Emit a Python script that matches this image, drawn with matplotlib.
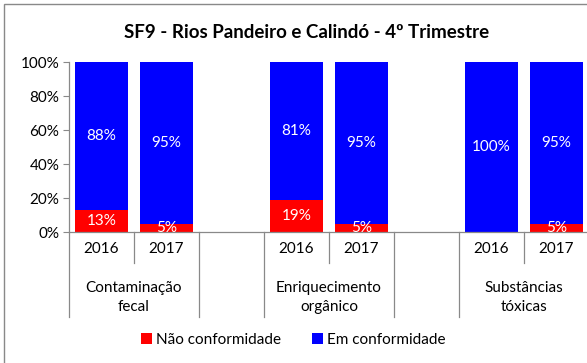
import matplotlib.pyplot as plt
from matplotlib.lines import Line2D
from matplotlib.patches import Rectangle

plt.rcParams['font.family'] = ['Lato', 'DejaVu Sans']

# Data
categorias = ['Contaminação\nfecal', 'Enriquecimento\norgânico', 'Substâncias\ntóxicas']
anos = ['2016', '2017']
nao_conf = [13, 5, 19, 5, 0, 5]
em_conf = [88, 95, 81, 95, 100, 95]

# Slot positions: two bars per group, an empty slot between groups
pos = [0, 1, 3, 4, 6, 7]

fig = plt.figure(figsize=(5.87, 3.63), dpi=100)
ax = fig.add_axes([69 / 587, 1 - 232 / 363, 520 / 587, 170 / 363])

vermelho = '#FF0000'
azul = '#0000FF'
cinza = '#898989'
larg = 0.83
fs = 11

b1 = ax.bar(pos, nao_conf, width=larg, color=vermelho, label='Não conformidade')
b2 = ax.bar(pos, em_conf, width=larg, bottom=nao_conf, color=azul, label='Em conformidade')

for p, r, b in zip(pos, nao_conf, em_conf):
    if r > 0:
        ax.text(p, r / 2, f'{r}%', ha='center', va='center', color='white',
                fontsize=fs, clip_on=True)
    topo = min(r + b, 100)
    ax.text(p, (r + topo) / 2, f'{b}%', ha='center', va='center',
            color='white', fontsize=fs)

ax.set_xlim(-0.5, 7.5)
ax.set_ylim(0, 100)
ax.set_yticks(range(0, 101, 20))
ax.set_yticklabels([f'{v}%' for v in range(0, 101, 20)], fontsize=fs)
ax.set_xticks([])
for s in ['top', 'right']:
    ax.spines[s].set_visible(False)
for s in ['left', 'bottom']:
    ax.spines[s].set_color(cinza)
    ax.spines[s].set_linewidth(0.9)
ax.tick_params(axis='y', length=4, color=cinza, pad=3)

# Two-level category axis
tr = ax.get_xaxis_transform()
for p, a in zip(pos, anos * 3):
    ax.text(p, -0.1, a, transform=tr, ha='center', va='center', fontsize=fs)
for i, c in enumerate(categorias):
    ax.text(3 * i + 0.5, -0.385, c, transform=tr, ha='center', va='center',
            fontsize=fs, linespacing=1.45)

curtas = [0.5, 3.5, 6.5]
longas = [-0.5, 1.5, 2.5, 4.5, 5.5, 7.5]
for x in curtas:
    ax.add_line(Line2D([x, x], [0, -0.182], transform=tr, color=cinza,
                       lw=0.9, clip_on=False))
for x in longas:
    ax.add_line(Line2D([x, x], [0, -0.5], transform=tr, color=cinza,
                       lw=0.9, clip_on=False))

fig.text(307 / 587, 1 - 32 / 363, 'SF9 - Rios Pandeiro e Calindó - 4º Trimestre',
         fontsize=13.5, fontweight='bold', ha='center', va='center')

fig.legend(handles=[b1, b2], loc='center', bbox_to_anchor=(0.5, 1 - 340 / 363),
           ncol=2, frameon=False, fontsize=fs, handlelength=0.7,
           handleheight=0.7, handletextpad=0.3, columnspacing=2.0)

# Chart area border
fig.add_artist(Rectangle((4 / 587, -0.1), 1.2, 1 - 4 / 363 + 0.1,
                         transform=fig.transFigure, fill=False,
                         edgecolor=cinza, lw=1.0))

fig.savefig('out.png', dpi=100)
